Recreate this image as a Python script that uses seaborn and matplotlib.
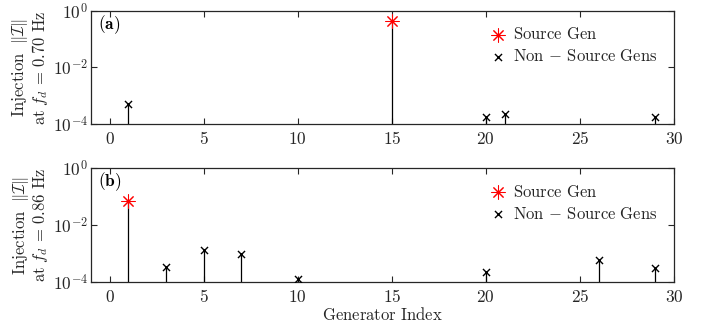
import numpy as np
import pandas as pd
import matplotlib
matplotlib.use("Agg")
import matplotlib.pyplot as plt
import seaborn as sns
from matplotlib.ticker import FixedLocator, FixedFormatter

sns.set_style("white")
plt.rcParams['mathtext.fontset'] = 'cm'
plt.rcParams['font.family'] = ['DejaVu Serif']

# ---- data ----
src_a_gen = [15]
src_a_val = [0.43]
non_a_gen = [1, 20, 21, 29]
non_a_val = [5.0e-4, 1.8e-4, 2.2e-4, 1.7e-4]

src_b_gen = [1]
src_b_val = [0.069]
non_b_gen = [3, 5, 7, 10, 20, 26, 29]
non_b_val = [3.4e-4, 1.3e-3, 9.3e-4, 1.25e-4, 2.3e-4, 5.8e-4, 3.0e-4]

x_ticks = [0, 5, 10, 15, 20, 25, 30]
y_ticks = [1e-4, 1e-2, 1e0]
y_tick_labels = [r'$10^{-4}$', r'$10^{-2}$', r'$10^{0}$']
freqs = ['0.70', '0.86']
panel_tags = [r'$(\mathbf{a})$', r'$(\mathbf{b})$']

axcol = (0.15, 0.15, 0.15)

fig = plt.figure(figsize=(7.1, 3.28), dpi=100)
ax_a = fig.add_axes([0.128, 0.622, 0.821, 0.345])
ax_b = fig.add_axes([0.128, 0.140, 0.821, 0.348])

panels = [
    (ax_a, src_a_gen, src_a_val, non_a_gen, non_a_val),
    (ax_b, src_b_gen, src_b_val, non_b_gen, non_b_val),
]

for i, (ax, sg, sv, ng, nv) in enumerate(panels):
    ax.set_yscale('log')
    allg = sg + ng
    allv = sv + nv
    ax.vlines(allg, 1e-4, allv, color='k', lw=0.9, zorder=2)
    df_s = pd.DataFrame({'gen': sg, 'val': sv})
    df_n = pd.DataFrame({'gen': ng, 'val': nv})
    sns.scatterplot(data=df_s, x='gen', y='val', ax=ax, marker=(8, 2, 0),
                    color='red', s=90, linewidth=0.75, label=r'$\mathrm{Source\ Gen}$', zorder=3)
    sns.scatterplot(data=df_n, x='gen', y='val', ax=ax, marker='x',
                    color='k', s=26, linewidth=1.0, label=r'$\mathrm{Non\,-\,Source\ Gens}$', zorder=3)
    ax.set_xlim(-1, 30)
    ax.set_ylim(1e-4, 1e0)
    ax.xaxis.set_major_locator(FixedLocator(x_ticks))
    ax.xaxis.set_major_formatter(FixedFormatter([r'$%d$' % t for t in x_ticks]))
    ax.yaxis.set_major_locator(FixedLocator(y_ticks))
    ax.yaxis.set_major_formatter(FixedFormatter(y_tick_labels))
    ax.yaxis.set_minor_locator(FixedLocator([]))
    ax.tick_params(axis='both', which='major', direction='in', length=4, width=0.8,
                   top=True, right=True, bottom=True, left=True, labelsize=12.5,
                   colors=axcol, pad=5)
    ax.tick_params(axis='y', pad=2)
    for sp in ax.spines.values():
        sp.set_color(axcol)
        sp.set_linewidth(0.9)
    ax.set_ylabel(r'$\mathrm{Injection}\ \ \|\mathcal{I}\|$' + '\n' +
                  r'$\mathrm{at}\ f_d\, =\, %s\ \mathrm{Hz}$' % freqs[i],
                  fontsize=12, color=axcol, labelpad=2, linespacing=1.0)
    ax.text(0.012, 0.88, panel_tags[i], transform=ax.transAxes, fontsize=12.5,
            color='k', va='center', ha='left')
    ax.set_xlabel('')
    leg = ax.legend(loc='upper right', bbox_to_anchor=(0.99, 0.95), frameon=False,
                    fontsize=12, handletextpad=0.3, labelspacing=0.3, borderaxespad=0.2,
                    handlelength=1.2)
    for t in leg.get_texts():
        t.set_color(axcol)

ax_b.set_xlabel(r'$\mathrm{Generator\ Index}$', fontsize=12, color=axcol, labelpad=1)

fig.savefig('out.png', dpi=100)
